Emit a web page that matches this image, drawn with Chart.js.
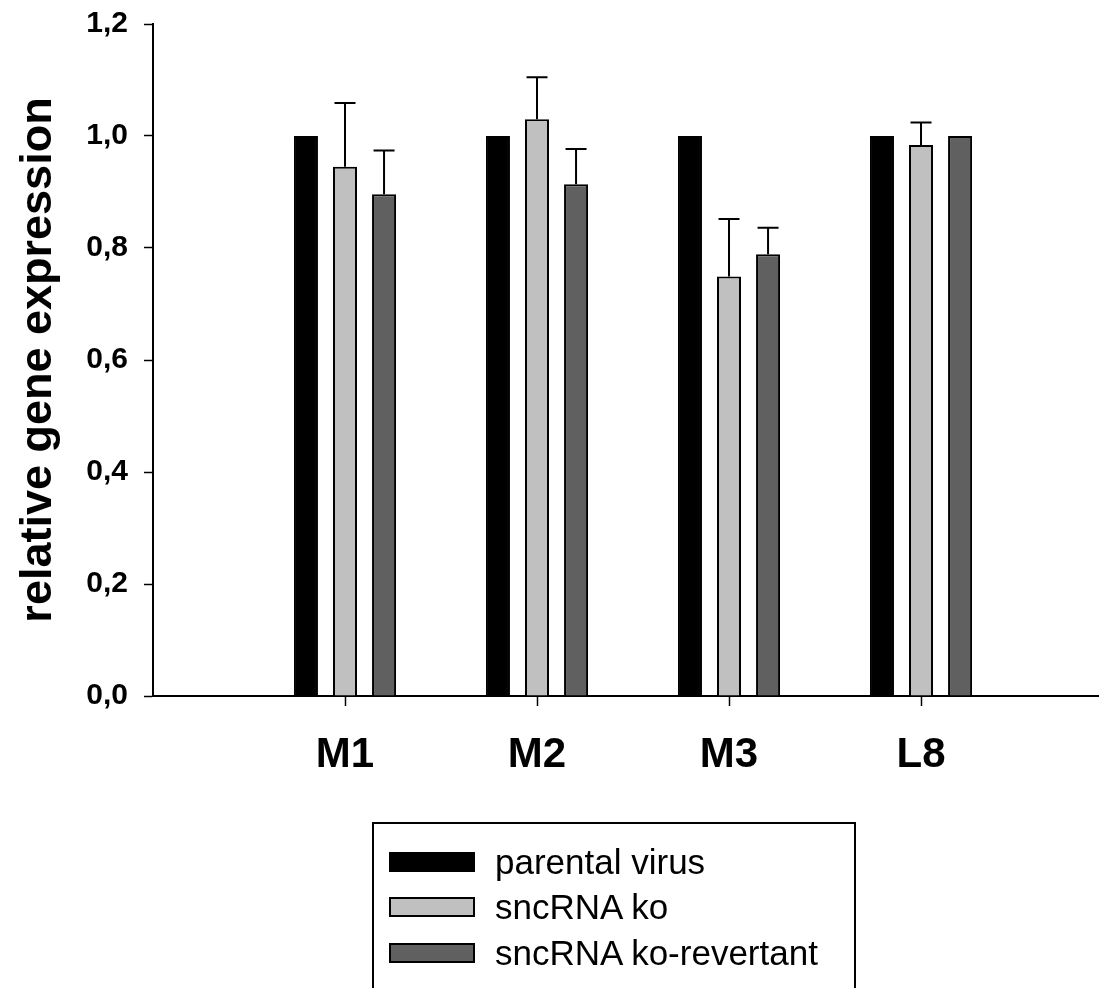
<!DOCTYPE html>
<html>
<head>
<meta charset="utf-8">
<title>relative gene expression</title>
<script src="https://cdn.jsdelivr.net/npm/chart.js@4.4.1/dist/chart.umd.min.js"></script>
<style>
    html, body { margin: 0; padding: 0; background: #fff; }
    #wrap { position: relative; width: 1099px; height: 988px; overflow: hidden; }
    #legend {
        position: absolute; left: 372px; top: 822px; width: 484px; height: 220px;
        border: 2px solid #000; box-sizing: border-box;
        font-family: 'Liberation Sans', Arial, sans-serif; font-size: 35px; color: #000;
    }
    .row { position: absolute; left: 15px; height: 40px; display: flex; align-items: center; white-space: nowrap; }
    .sw { width: 86px; height: 20px; border: 2px solid #000; box-sizing: border-box; margin-right: 20px; }
</style>
</head>
<body>
<div id="wrap">
    <canvas id="chart"></canvas>
    <div id="legend"></div>
</div>
<script>
// Data
const categories = ['M1', 'M2', 'M3', 'L8'];
const seriesNames = ['parental virus', 'sncRNA ko', 'sncRNA ko-revertant'];
const parental = [1.0, 1.0, 1.0, 1.0];
const ko = [0.945, 1.030, 0.749, 0.984];
const revertant = [0.896, 0.914, 0.789, 1.0];
const parentalErr = [0, 0, 0, 0];
const koErr = [0.114, 0.075, 0.103, 0.040];
const revertantErr = [0.078, 0.063, 0.047, 0];
const yTicks = [0, 0.2, 0.4, 0.6, 0.8, 1.0, 1.2];
const seriesColors = ['#000000', '#c0c0c0', '#606060'];

const seriesValues = [parental, ko, revertant];
const seriesErrors = [parentalErr, koErr, revertantErr];

// Upper error bars drawn through the value scale
const errorBars = {
    id: 'errorBars',
    afterDatasetsDraw(chart) {
        const ctx = chart.ctx;
        const yScale = chart.scales.y;
        ctx.save();
        ctx.strokeStyle = '#000';
        ctx.lineWidth = 2;
        chart.data.datasets.forEach((ds, di) => {
            const meta = chart.getDatasetMeta(di);
            meta.data.forEach((bar, i) => {
                const err = ds.errors[i];
                if (!err) return;
                const yTop = yScale.getPixelForValue(ds.data[i].y + err);
                ctx.beginPath();
                ctx.moveTo(bar.x, bar.y);
                ctx.lineTo(bar.x, yTop);
                ctx.moveTo(bar.x - 10.5, yTop);
                ctx.lineTo(bar.x + 10.5, yTop);
                ctx.stroke();
            });
        });
        ctx.restore();
    }
};

const datasets = seriesNames.map((name, si) => ({
    label: name,
    data: seriesValues[si].map((v, i) => ({ x: i + 1, y: v })),
    errors: seriesErrors[si],
    backgroundColor: seriesColors[si],
    borderColor: '#000',
    borderWidth: 2,
    categoryPercentage: 0.61,
    barPercentage: 0.615
}));

const ctx = document.getElementById('chart');
new Chart(ctx, {
    type: 'bar',
    data: { datasets: datasets },
    plugins: [errorBars],
    options: {
        responsive: true,
        maintainAspectRatio: false,
        animation: false,
        layout: { padding: { left: 0, top: 24, right: 0, bottom: 0 } },
        plugins: {
            legend: { display: false },
            tooltip: { enabled: false }
        },
        scales: {
            x: {
                type: 'linear',
                min: 0,
                max: 4.927,
                offset: false,
                afterBuildTicks: (scale) => {
                    scale.ticks = categories.map((c, i) => ({ value: i + 1 }));
                },
                afterFit: (scale) => {
                    scale.height = 292;
                    scale.paddingLeft = 0;
                    scale.paddingRight = 0;
                },
                grid: {
                    offset: false,
                    drawOnChartArea: false,
                    drawTicks: true,
                    tickLength: 10,
                    tickWidth: 1.5,
                    tickColor: '#000'
                },
                border: { color: '#000', width: 2 },
                ticks: {
                    color: '#000',
                    padding: 24,
                    maxRotation: 0,
                    font: { family: "'Liberation Sans Narrow', 'Arial Narrow', 'Liberation Sans', Arial, sans-serif", size: 42, weight: 'bold' },
                    callback: (v) => categories[v - 1]
                }
            },
            y: {
                min: 0,
                max: 1.2,
                afterBuildTicks: (scale) => {
                    scale.ticks = yTicks.map(v => ({ value: v }));
                },
                afterFit: (scale) => {
                    scale.width = 153;
                    scale.paddingTop = 0;
                    scale.paddingBottom = 0;
                },
                grid: {
                    drawOnChartArea: false,
                    drawTicks: true,
                    tickLength: 9,
                    tickWidth: 1.5,
                    tickColor: '#000'
                },
                border: { color: '#000', width: 2 },
                ticks: {
                    color: '#000',
                    padding: 16,
                    font: { family: "'Liberation Sans', Arial, sans-serif", size: 30, weight: 'bold' },
                    callback: (v) => v.toFixed(1).replace('.', ',')
                },
                title: {
                    display: true,
                    text: 'relative gene expression',
                    color: '#000',
                    padding: { top: 12, bottom: 0 },
                    font: { family: "'Liberation Sans', Arial, sans-serif", size: 45, weight: 'bold' }
                }
            }
        }
    }
});

// Legend box below the chart, built from the series names and colours
const legendEl = document.getElementById('legend');
const rowTops = [18, 63, 109];
seriesNames.forEach((name, i) => {
    const row = document.createElement('div');
    row.className = 'row';
    row.style.top = rowTops[i] + 'px';
    const sw = document.createElement('span');
    sw.className = 'sw';
    sw.style.background = seriesColors[i];
    const label = document.createElement('span');
    label.textContent = name;
    row.appendChild(sw);
    row.appendChild(label);
    legendEl.appendChild(row);
});
</script>
</body>
</html>
